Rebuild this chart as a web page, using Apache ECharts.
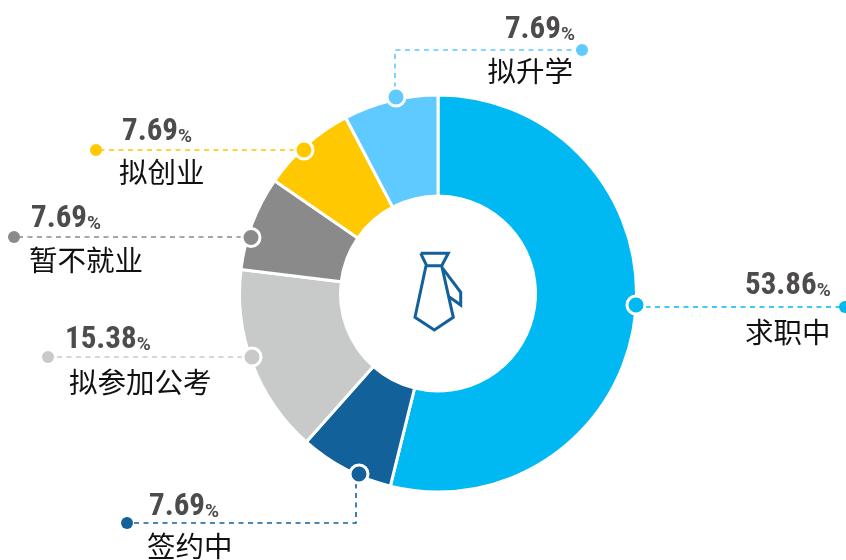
<!DOCTYPE html>
<html><head><meta charset="utf-8">
<style>html,body{margin:0;padding:0;background:#fff}#c{width:846px;height:560px}</style>
<script src="https://cdn.jsdelivr.net/npm/echarts@6/dist/echarts.min.js"></script>
</head><body><div id="c"></div>
<script>
const categories = ['求职中','签约中','拟参加公考','暂不就业','拟创业','拟升学'];
const values = [53.86,7.69,15.38,7.69,7.69,7.69];
const colors = ['#00b9f2','#12619b','#c8cac9','#8a8a8a','#ffc800','#5fcaff'];
const anchors = [[636,305],[359,474],[252,357],[251,237.5],[304,150],[396,97]];
const callouts = [
  [[636,307],[845,307]],
  [[356,474],[356,523],[127,523]],
  [[252,357],[48,357]],
  [[251,237],[14,237]],
  [[304,150],[96,150]],
  [[395,97],[395,50],[582,50]]
];
const labelSpots = [
  {x:745,y:309,align:'left'},
  {x:147,y:526.5,align:'left'},
  {x:65,y:361,align:'left'},
  {x:29,y:240,align:'left'},
  {x:119,y:152,align:'left'},
  {x:575,y:50.5,align:'right'}
];
const lineGap = [46,39,42,41,40,41];
const valueIndent = [0,2,0,2,3,0];
const nameIndent = [0,0,4,0,0,0];
const nameRight = [0,0,0,0,0,2];
const tieParts = [
  [[420.7,253.3],[448.3,253.3],[441.7,265.7],[426.7,265.7],[420.7,253.3]],
  [[426,265.7],[415,317.3],[434.3,330],[453.3,317.3],[441.7,265.7]],
  [[442.7,268.3],[460.7,292.3],[460.7,305],[449,296.7]]
];
const chart = echarts.init(document.getElementById('c'),null,{renderer:'canvas'});
const graphics = [];
callouts.forEach((pts,i)=>{
  const a=anchors[i], b=pts[pts.length-1];
  graphics.push({type:'polyline',silent:true,z:5,shape:{points:pts},style:{fill:null,stroke:colors[i],lineWidth:1.6,lineDash:[5,4.5]}});
  graphics.push({type:'circle',silent:true,z:6,shape:{cx:a[0],cy:a[1],r:9},style:{fill:colors[i],stroke:'#fff',lineWidth:3}});
  graphics.push({type:'circle',silent:true,z:6,shape:{cx:b[0],cy:b[1],r:6},style:{fill:colors[i]}});
});
tieParts.forEach(p=>graphics.push({type:'polyline',silent:true,z:6,shape:{points:p},style:{fill:null,stroke:'#12619b',lineWidth:3,lineJoin:'miter'}}));
const valFont = '"Roboto Condensed","Roboto",sans-serif';
const richFor = i => ({
  v:{fontFamily:valFont,fontWeight:'bold condensed',fontSize:31,color:'#4d4b4b',lineHeight:lineGap[i],padding:[0,0,0,valueIndent[i]]},
  p:{fontFamily:'Roboto',fontWeight:'bold',fontSize:19,color:'#4d4b4b',padding:[10,0,0,0]},
  n:{fontFamily:'Noto Sans CJK SC',fontSize:28.5,color:'#111',lineHeight:lineGap[i],padding:[0,nameRight[i],0,nameIndent[i]]}
});
chart.setOption({
  animation:false,
  backgroundColor:'#fff',
  color:colors,
  graphic:graphics,
  series:[{
    type:'pie',
    center:[438,293.5],
    radius:[97.5,198.5],
    startAngle:90,
    clockwise:true,
    avoidLabelOverlap:false,
    silent:true,
    itemStyle:{borderColor:'#fff',borderWidth:3},
    labelLine:{show:false},
    label:{show:true,formatter:'{v|{c}}{p|%}\n{n|{b}}'},
    labelLayout:(p)=>{const s=labelSpots[p.dataIndex];return {x:s.x,y:s.y,align:s.align,verticalAlign:'middle'};},
    data:categories.map((n,i)=>({name:n,value:values[i],label:{rich:richFor(i)}}))
  }]
});
</script></body></html>
